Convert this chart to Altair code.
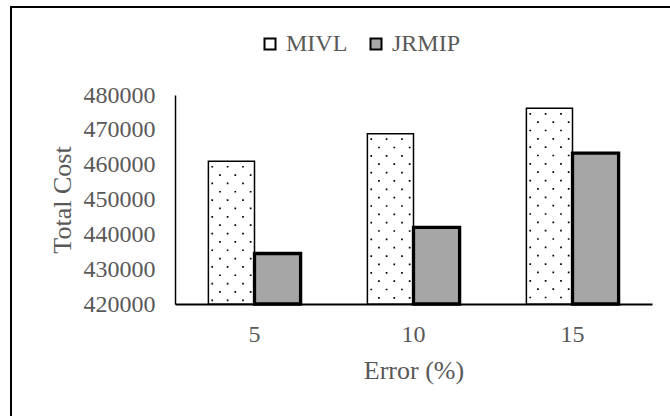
import altair as alt
import pandas as pd

errors = ["5", "10", "15"]
series = ["MIVL", "JRMIP"]
mivl = [461000, 468900, 476200]
jrmip = [434500, 442000, 463300]
y_ticks = [420000, 430000, 440000, 450000, 460000, 470000, 480000]

FONT = "Liberation Serif"
GREY_TXT = "#595959"

rows = []
for e, a, b in zip(errors, mivl, jrmip):
    rows.append({"error": e, "series": "MIVL", "value": a})
    rows.append({"error": e, "series": "JRMIP", "value": b})
bars_df = pd.DataFrame(rows)

dot_rows = []
for e, a in zip(errors, mivl):
    for s in range(6):
        dot_rows.append({"error": e, "slot": s, "odd": s % 2, "value": a})
dots_df = pd.DataFrame(dot_rows)

x_enc = alt.X(
    "error:N",
    sort=errors,
    scale=alt.Scale(paddingInner=0.42, paddingOuter=0.21),
    axis=alt.Axis(title="Error (%)", labelAngle=0, labelPadding=18, titlePadding=11,
                  domainWidth=2),
)
y_enc = alt.Y(
    "value:Q",
    scale=alt.Scale(domain=[420000, 480000], zero=False, nice=False),
    axis=alt.Axis(values=y_ticks, format="d", title="Total Cost", labelPadding=20,
                  titlePadding=8, domainWidth=1.5),
)

bars = alt.Chart(bars_df).mark_bar(stroke="black").encode(
    x=x_enc,
    xOffset=alt.XOffset("series:N", sort=series),
    y=y_enc,
    y2=alt.datum(420000),
    fill=alt.Fill(
        "series:N",
        scale=alt.Scale(domain=series, range=["white", "#a6a6a6"]),
        legend=alt.Legend(
            orient="none", legendX=83, legendY=-63, direction="horizontal", title=None,
            symbolType="square", symbolSize=121, symbolStrokeColor="black",
            symbolStrokeWidth=2, labelFont=FONT, labelFontSize=24, labelColor=GREY_TXT,
            labelOffset=4, columnPadding=16, padding=0,
        ),
    ),
    strokeWidth=alt.condition(alt.datum.series == "MIVL", alt.value(1.5), alt.value(3.3)),
)

def dot_layer(parity, offset):
    return alt.Chart(dots_df).transform_filter(alt.datum.odd == parity).mark_rule(
        color="black", strokeWidth=1.7, strokeDash=[1.7, 15], strokeDashOffset=offset
    ).encode(
        x=x_enc,
        xOffset=alt.XOffset("slot:O", scale=alt.Scale(domain=list(range(12)))),
        y=y_enc,
        y2=alt.datum(420000),
    )

dots_even = dot_layer(0, 12)
dots_odd = dot_layer(1, 3.7)

one = pd.DataFrame({"k": [0]})
frame_left = alt.Chart(one).mark_rule(color="black", strokeWidth=2).encode(
    x=alt.value(-164), y=alt.value(-88), y2=alt.value(340)
)
frame_top = alt.Chart(one).mark_rule(color="black", strokeWidth=2).encode(
    x=alt.value(-165), x2=alt.value(520), y=alt.value(-88)
)

chart = alt.layer(bars, dots_even, dots_odd, frame_left, frame_top).resolve_scale(
    xOffset="independent"
).properties(
    width=477,
    height=209,
    background="white",
    autosize=alt.AutoSizeParams(type="none"),
    padding={"left": 175, "top": 95, "right": 18, "bottom": 112},
).configure_axis(
    labelFont=FONT, labelFontSize=24, labelColor=GREY_TXT,
    titleFont=FONT, titleFontSize=26, titleColor=GREY_TXT, titleFontWeight="normal",
    grid=False, ticks=False, tickSize=0, domainColor="black",
).configure_legend(
    labelFont=FONT, labelFontSize=24, labelColor=GREY_TXT,
).configure_view(stroke=None)

chart.save("out.html", embed_options={"renderer": "svg", "actions": False})
